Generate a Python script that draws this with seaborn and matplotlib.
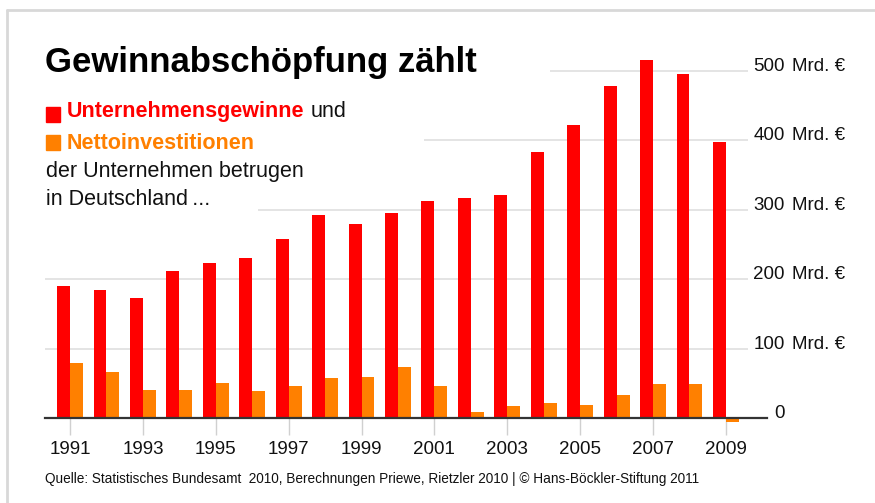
import matplotlib
matplotlib.use("Agg")
import matplotlib.pyplot as plt
import matplotlib.transforms as mtrans
from matplotlib.patches import Rectangle
from matplotlib.lines import Line2D
import seaborn as sns
import pandas as pd

# ---- data ----
years = [str(y) for y in range(1991, 2010)]
gewinne = [190, 184, 173, 212, 224, 231, 258, 292, 280, 296, 312, 317, 321,
           383, 422, 478, 516, 495, 398]
investitionen = [80, 67, 41, 41, 51, 40, 46, 58, 60, 74, 47, 9, 18,
                 22, 19, 34, 50, 50, -5]
series_names = ["Unternehmensgewinne", "Nettoinvestitionen"]
y_ticks = [0, 100, 200, 300, 400, 500]
y_labels = ["0", "100", "200", "300", "400", "500"]
tick_years = years[::2]

RED = "#ff0000"
ORANGE = "#ff8000"
FONT = "Liberation Sans"

df = pd.DataFrame({
    "Jahr": years * 2,
    "Wert": gewinne + investitionen,
    "Reihe": [series_names[0]] * len(years) + [series_names[1]] * len(years),
})

sns.set_theme(style="white")
plt.rcParams["font.family"] = [FONT, "DejaVu Sans"]

W, H = 875, 503
fig = plt.figure(figsize=(W / 100, H / 100), dpi=100)
fig.patch.set_facecolor("white")

def fx(x):
    return x / W

def fy(y):
    return 1 - y / H

# axes placement (pixel based)
ax_left, ax_right = 45, 767
ylo, yhi = -10, 540
px_per_unit = 0.695
zero_px = 418.3
ax_bottom_px = zero_px - ylo * px_per_unit
ax_top_px = zero_px - yhi * px_per_unit
ax = fig.add_axes([fx(ax_left), fy(ax_bottom_px), (ax_right - ax_left) / W,
                   (ax_bottom_px - ax_top_px) / H])
ax.set_facecolor("none")

sns.barplot(data=df, x="Jahr", y="Wert", hue="Reihe", order=years,
            hue_order=series_names, palette=[RED, ORANGE], width=0.71,
            saturation=1, errorbar=None, legend=False, ax=ax, zorder=2,
            linewidth=0)

step = 36.44
c0 = 70
ax.set_xlim((ax_left - c0) / step, (ax_right - c0) / step)
ax.set_ylim(ylo, yhi)

# gridlines (partly hidden behind the header text)
grid_starts_px = {100: 45, 200: 45, 300: 258, 400: 424, 500: 550}
for val in y_ticks[1:]:
    ax.hlines(val, (grid_starts_px[val] - c0) / step, (748 - c0) / step,
              color="#dcdcdc", lw=1.1, zorder=0)

for s in ["top", "right", "left"]:
    ax.spines[s].set_visible(False)
ax.spines["bottom"].set_position(("data", 0))
ax.spines["bottom"].set_color("#333333")
ax.spines["bottom"].set_linewidth(1.6)
ax.spines["bottom"].set_zorder(3)

ax.set_xticks(range(0, len(years), 2))
ax.set_xticklabels(tick_years)
ax.tick_params(axis="x", bottom=True, length=12, width=1, color="#d0d0d0",
               pad=4, labelsize=13.5, labelcolor="#111111", direction="out")
for lab in ax.get_xticklabels():
    lab.set_fontfamily(FONT)
ax.set_yticks([])
ax.set_xlabel("")
ax.set_ylabel("")

# right-side value labels
tr = mtrans.blended_transform_factory(fig.transFigure, ax.transData)
for val, lab in zip(y_ticks, y_labels):
    ax.text(fx(785), val, lab, transform=tr, ha="right", va="baseline",
            fontsize=13.5, color="#111111", family=FONT)
    if val != 0:
        ax.text(fx(792), val, "Mrd. €", transform=tr, ha="left",
                va="baseline", fontsize=13.5, color="#111111", family=FONT)

# title
fig.text(fx(45), fy(72), "Gewinnabschöpfung zählt", fontsize=25,
         fontweight="bold", color="#000000", family=FONT, va="baseline")

# header / legend text
fs = 15.5
fig.patches.append(Rectangle((fx(46), fy(122)), 14 / W, 15 / H,
                             transform=fig.transFigure, color=RED))
t1 = fig.text(fx(67), fy(121.7), series_names[0], fontsize=fs,
              fontweight="bold", color=RED, family=FONT, va="bottom")
fig.canvas.draw()
bb = t1.get_window_extent()
fig.text((bb.x1 + 6) / W, bb.y0 / H, "und", fontsize=fs, color="#111111",
         family=FONT, va="bottom")
fig.patches.append(Rectangle((fx(46), fy(149.5)), 14 / W, 15 / H,
                             transform=fig.transFigure, color=ORANGE))
fig.text(fx(67), fy(149.3), series_names[1], fontsize=fs, fontweight="bold",
         color=ORANGE, family=FONT, va="baseline")
fig.text(fx(46), fy(177.3), "der Unternehmen betrugen", fontsize=fs,
         color="#111111", family=FONT, va="baseline")
fig.text(fx(46), fy(205), "in Deutschland\u2009...", fontsize=fs,
         color="#111111", family=[FONT, "DejaVu Sans"], va="baseline")

# source line
fig.text(fx(45), fy(483), "Quelle: Statistisches Bundesamt  2010, Berechnungen "
         "Priewe, Rietzler 2010 | © Hans-Böckler-Stiftung 2011",
         fontsize=9.8, color="#111111", family=FONT, va="baseline")

# light frame (top and left edges)
fig.add_artist(Line2D([fx(7), 1], [fy(10), fy(10)], transform=fig.transFigure,
                      color="#d8d8d8", lw=2))
fig.add_artist(Line2D([fx(7), fx(7)], [fy(10), 0], transform=fig.transFigure,
                      color="#d8d8d8", lw=2))

fig.savefig("out.png", dpi=100, facecolor="white")
